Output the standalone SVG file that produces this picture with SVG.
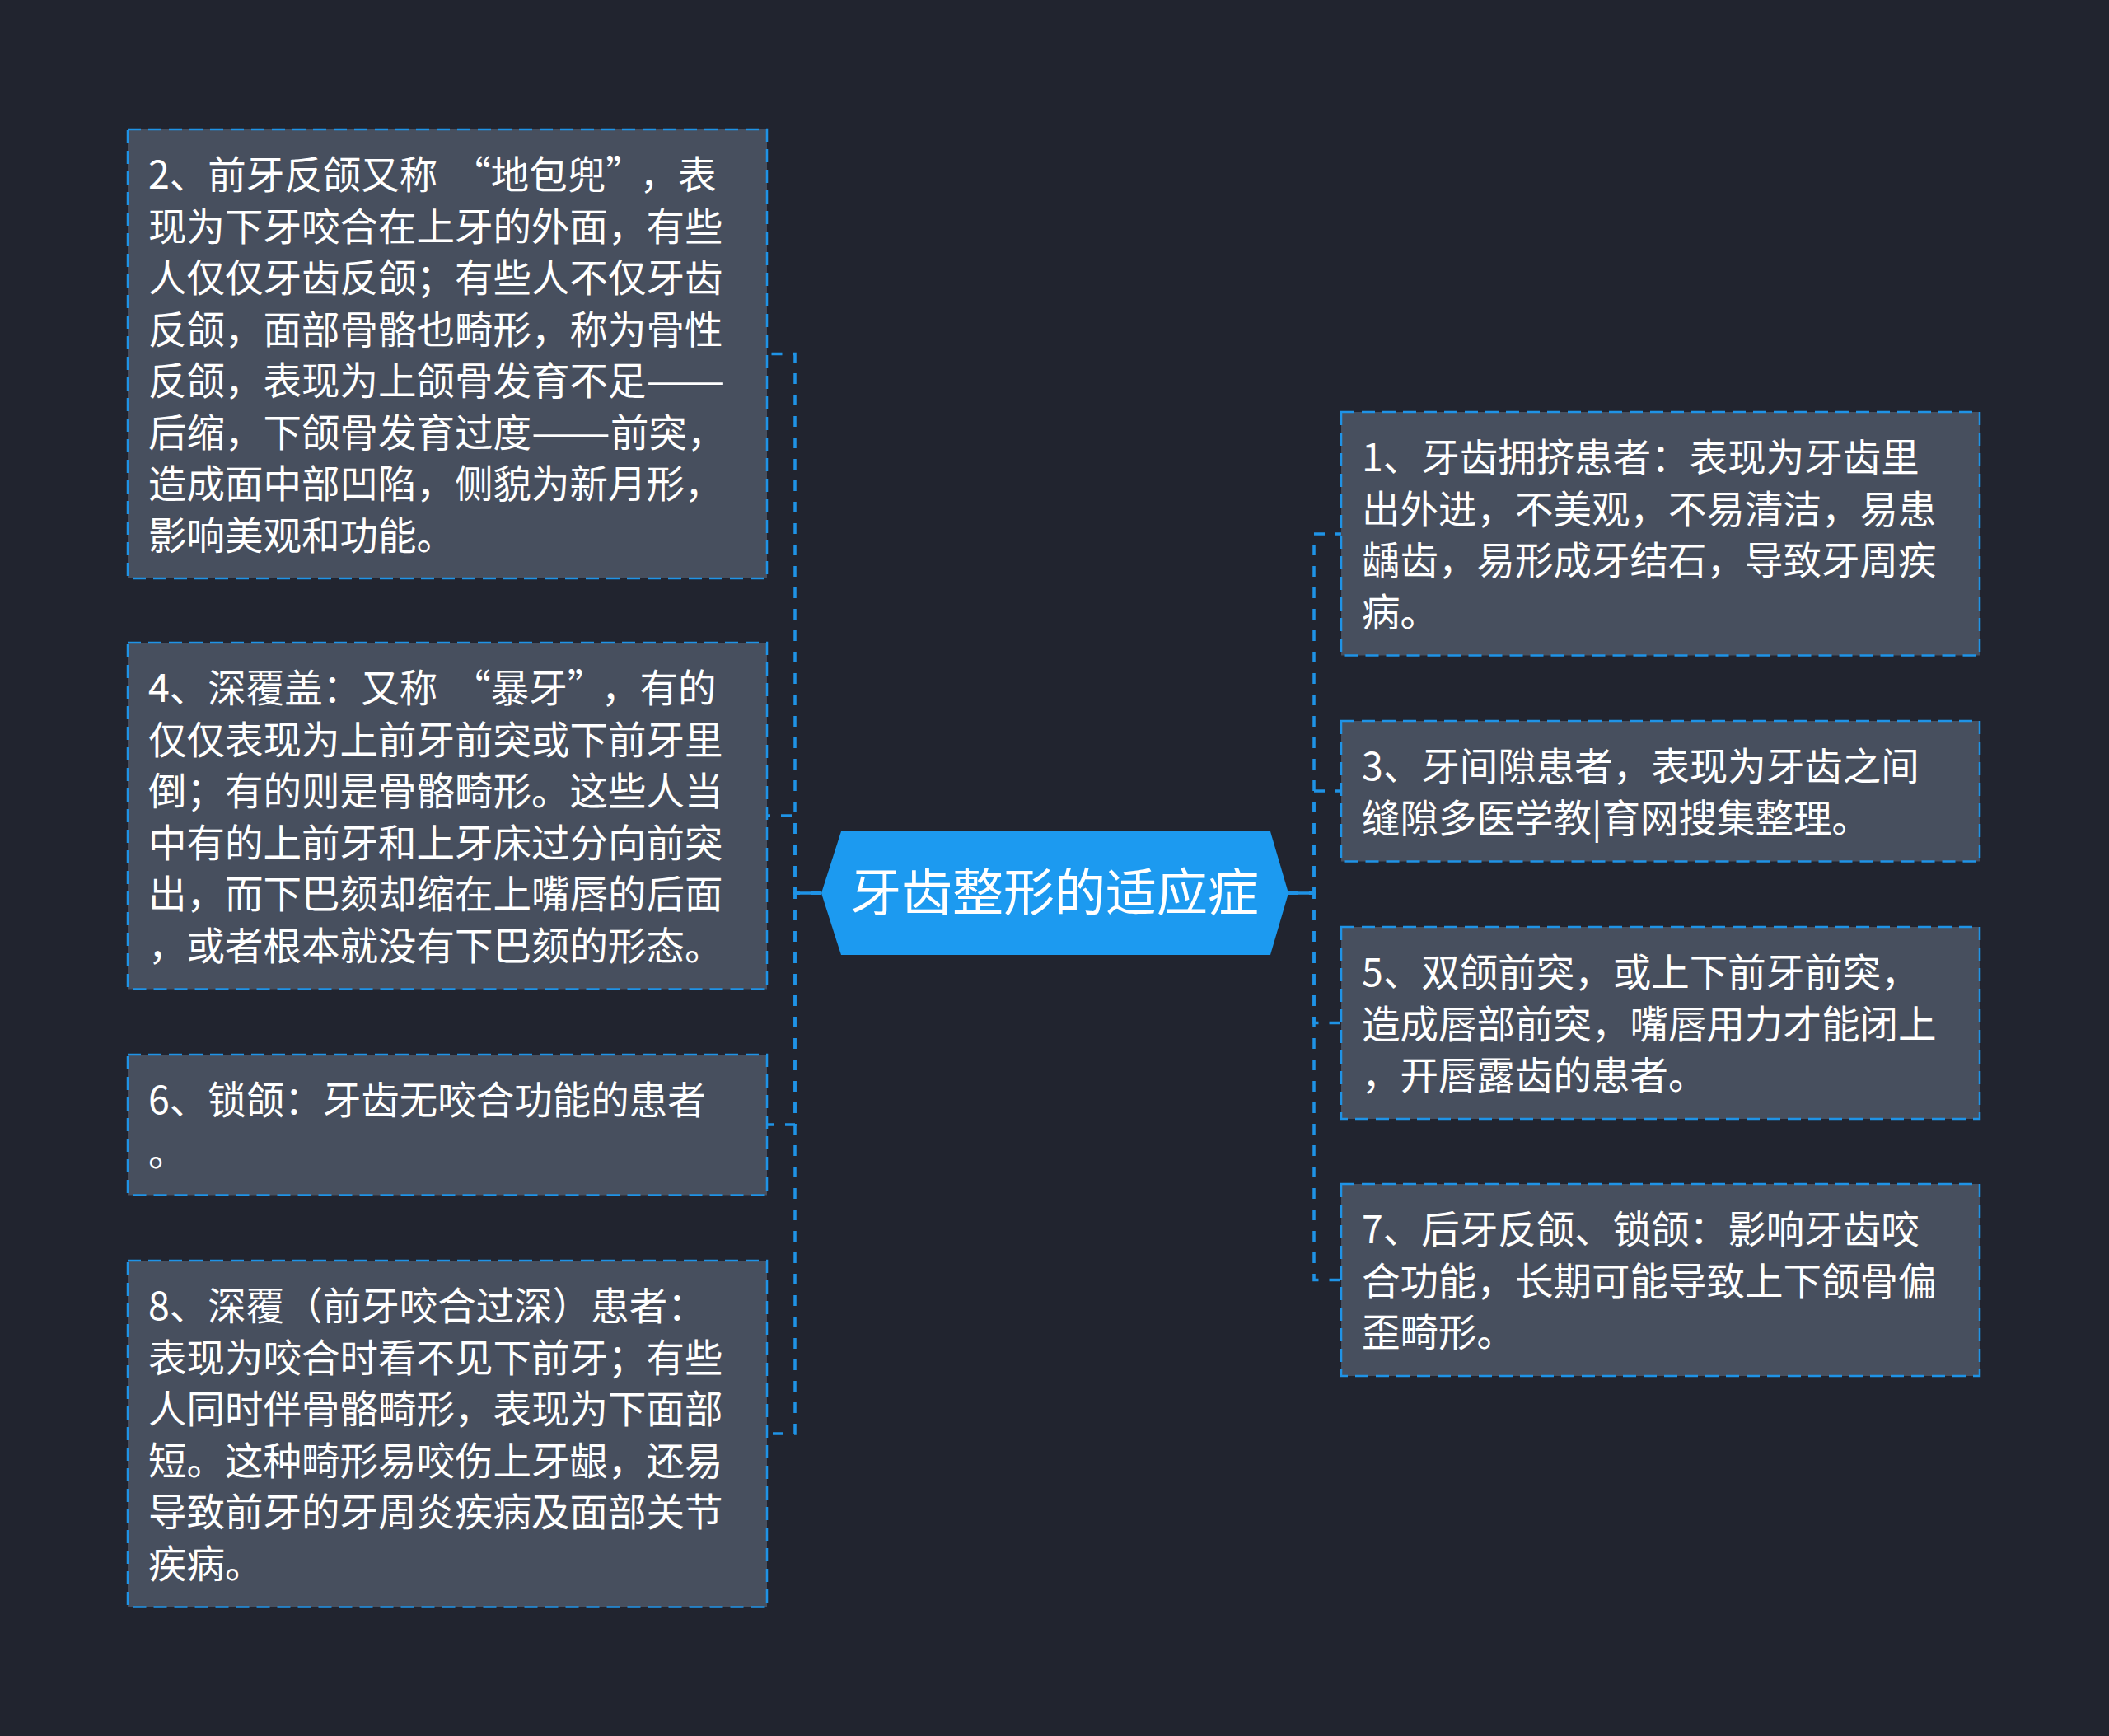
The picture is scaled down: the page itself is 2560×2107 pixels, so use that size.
<svg xmlns="http://www.w3.org/2000/svg" width="2560" height="2107" viewBox="0 0 2560 2107">
<style>
.bg{fill:#21242f}
.box{fill:#474f5e;stroke:#1f93e6;stroke-width:2.5;stroke-dasharray:16 9}
.t{font-family:"Noto Sans CJK SC","Noto Sans",sans-serif;font-size:46.5px;fill:#ffffff}
.ct{font-family:"Noto Sans CJK SC","Noto Sans",sans-serif;font-size:62px;fill:#ffffff}
.c{fill:none;stroke:#1f93e6;stroke-width:3.5;stroke-dasharray:13 13}
</style>
<rect class="bg" x="0" y="0" width="2560" height="2107"/>
<g id="connectors">
<path class="c" d="M997 1084 H965 V429.5 H931"/>
<path class="c" d="M997 1084 H965 V990 H931"/>
<path class="c" d="M997 1084 H965 V1365 H931"/>
<path class="c" d="M997 1084 H965 V1740 H931"/>
<path class="c" d="M1563 1084 H1595 V648 H1628"/>
<path class="c" d="M1563 1084 H1595 V960 H1628"/>
<path class="c" d="M1563 1084 H1595 V1241.5 H1628"/>
<path class="c" d="M1563 1084 H1595 V1553.5 H1628"/>
<path d="M965 1084 H997 M1563 1084 H1595" stroke="#1f93e6" stroke-width="3.5"/>
</g>
<g id="center">
<polygon points="1021,1009 1542,1009 1564,1084 1542,1159 1021,1159 997,1084" fill="#1c9af0"/>
<text class="ct" x="1280" y="1106" text-anchor="middle">牙齿整形的适应症</text>
</g>
<g id="node2">
<rect class="box" x="155" y="157" width="776" height="545"/>
<text class="t">
<tspan x="180" y="229">2、前牙反颌又称<tspan dx="18">“</tspan>地包兜”<tspan dx="18">，</tspan>表</tspan>
<tspan x="180" y="291.5">现为下牙咬合在上牙的外面，有些</tspan>
<tspan x="180" y="354">人仅仅牙齿反颌；有些人不仅牙齿</tspan>
<tspan x="180" y="416.5">反颌，面部骨骼也畸形，称为骨性</tspan>
<tspan x="180" y="479">反颌，表现为上颌骨发育不足<tspan textLength="96" lengthAdjust="spacingAndGlyphs">——</tspan></tspan>
<tspan x="180" y="541.5">后缩，下颌骨发育过度<tspan textLength="96" lengthAdjust="spacingAndGlyphs">——</tspan>前突，</tspan>
<tspan x="180" y="604">造成面中部凹陷，侧貌为新月形，</tspan>
<tspan x="180" y="666.5">影响美观和功能。</tspan>
</text>
</g>
<g id="node4">
<rect class="box" x="155" y="780" width="776" height="420.5"/>
<text class="t">
<tspan x="180" y="852">4、深覆盖：又称<tspan dx="18">“</tspan>暴牙”<tspan dx="18">，</tspan>有的</tspan>
<tspan x="180" y="914.5">仅仅表现为上前牙前突或下前牙里</tspan>
<tspan x="180" y="977">倒；有的则是骨骼畸形。这些人当</tspan>
<tspan x="180" y="1039.5">中有的上前牙和上牙床过分向前突</tspan>
<tspan x="180" y="1102">出，而下巴颏却缩在上嘴唇的后面</tspan>
<tspan x="180" y="1164.5">，或者根本就没有下巴颏的形态。</tspan>
</text>
</g>
<g id="node6">
<rect class="box" x="155" y="1280" width="776" height="170.5"/>
<text class="t">
<tspan x="180" y="1352">6、锁颌：牙齿无咬合功能的患者</tspan>
<tspan x="180" y="1414.5">。</tspan>
</text>
</g>
<g id="node8">
<rect class="box" x="155" y="1530" width="776" height="420.5"/>
<text class="t">
<tspan x="180" y="1602">8、深覆（前牙咬合过深）患者：</tspan>
<tspan x="180" y="1664.5">表现为咬合时看不见下前牙；有些</tspan>
<tspan x="180" y="1727">人同时伴骨骼畸形，表现为下面部</tspan>
<tspan x="180" y="1789.5">短。这种畸形易咬伤上牙龈，还易</tspan>
<tspan x="180" y="1852">导致前牙的牙周炎疾病及面部关节</tspan>
<tspan x="180" y="1914.5">疾病。</tspan>
</text>
</g>
<g id="node1">
<rect class="box" x="1628" y="500" width="775" height="295.5"/>
<text class="t">
<tspan x="1653" y="572">1、牙齿拥挤患者：表现为牙齿里</tspan>
<tspan x="1653" y="634.5">出外进，不美观，不易清洁，易患</tspan>
<tspan x="1653" y="697">龋齿，易形成牙结石，导致牙周疾</tspan>
<tspan x="1653" y="759.5">病。</tspan>
</text>
</g>
<g id="node3">
<rect class="box" x="1628" y="875" width="775" height="170.5"/>
<text class="t">
<tspan x="1653" y="947">3、牙间隙患者，表现为牙齿之间</tspan>
<tspan x="1653" y="1009.5">缝隙多医学教|育网搜集整理。</tspan>
</text>
</g>
<g id="node5">
<rect class="box" x="1628" y="1125" width="775" height="233"/>
<text class="t">
<tspan x="1653" y="1197">5、双颌前突，或上下前牙前突，</tspan>
<tspan x="1653" y="1259.5">造成唇部前突，嘴唇用力才能闭上</tspan>
<tspan x="1653" y="1322">，开唇露齿的患者。</tspan>
</text>
</g>
<g id="node7">
<rect class="box" x="1628" y="1437" width="775" height="233"/>
<text class="t">
<tspan x="1653" y="1509">7、后牙反颌、锁颌：影响牙齿咬</tspan>
<tspan x="1653" y="1571.5">合功能，长期可能导致上下颌骨偏</tspan>
<tspan x="1653" y="1634">歪畸形。</tspan>
</text>
</g>
</svg>
